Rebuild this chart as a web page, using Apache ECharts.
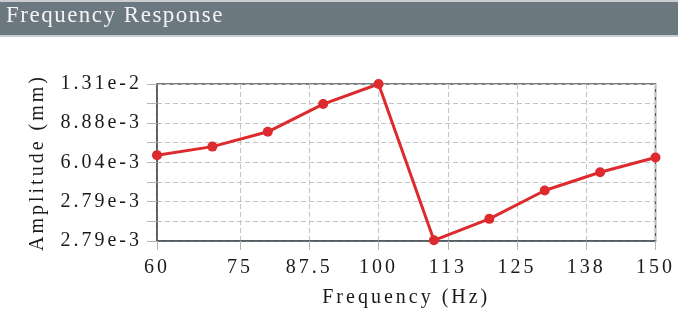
<!DOCTYPE html>
<html>
<head>
<meta charset="utf-8">
<title>Frequency Response</title>
<script src="https://cdn.jsdelivr.net/npm/echarts@6/dist/echarts.min.js"></script>
<style>
  html, body { margin: 0; padding: 0; background: #fff; }
  #chart { width: 678px; height: 314px; }
</style>
</head>
<body>
<div id="chart"></div>
<script>
const frequencies = [60, 70, 80, 90, 100, 110, 120, 130, 140, 150];
const amplitudes = [6.50e-3, 7.07e-3, 8.18e-3, 1.075e-2, 1.31e-2, 2.81e-3, 3.47e-3, 4.59e-3, 5.49e-3, 6.35e-3];

const xTickValues = [60, 75, 87.5, 100, 112.5, 125, 137.5, 150];
const xTickLabels = ['60', '75', '87.5', '100', '113', '125', '138', '150'];

const yTickValues = [0.00279, 0.003386, 0.00411, 0.004988, 0.006054, 0.007348, 0.008918, 0.010824, 0.0131];
const yLabelValues = [0.00279, 0.00411, 0.006054, 0.008918, 0.0131];
const yLabelTexts = ['2.79e-3', '2.79e-3', '6.04e-3', '8.88e-3', '1.31e-2'];

const serif = '"Liberation Serif", "Times New Roman", serif';
const frameColor = '#4c555b';

// the original figure uses widely tracked serif text; canvas supports letterSpacing natively
const spacingFor = (font) => (/\b2[2-9]px/.test(font) ? '1.5px' : '3px');
['fillText', 'strokeText', 'measureText'].forEach((fn) => {
  const orig = CanvasRenderingContext2D.prototype[fn];
  CanvasRenderingContext2D.prototype[fn] = function (...args) {
    if ('letterSpacing' in this) this.letterSpacing = spacingFor(this.font);
    return orig.apply(this, args);
  };
});

const pickLabel = (values, texts, v) => {
  let best = 0;
  values.forEach((tv, i) => {
    if (Math.abs(tv - v) < Math.abs(values[best] - v)) best = i;
  });
  return texts[best];
};

const chart = echarts.init(document.getElementById('chart'), null, { renderer: 'canvas' });

chart.setOption({
  backgroundColor: '#fff',
  animation: false,
  graphic: [
    { type: 'rect', left: 0, top: 0, shape: { width: 678, height: 37 }, style: { fill: '#c9cdd0' }, silent: true },
    { type: 'rect', left: 0, top: 2, shape: { width: 678, height: 33 }, style: { fill: '#6c7880' }, silent: true },
    {
      type: 'text',
      left: 6,
      top: 4,
      style: { text: 'Frequency Response', fill: '#f4f4f4', font: '23px ' + serif },
      silent: true,
    },
  ],
  grid: {
    left: 157,
    right: 21,
    top: 84,
    bottom: 71,
    show: true,
    borderColor: frameColor,
    borderWidth: 1.5,
  },
  xAxis: {
    type: 'value',
    min: 60,
    max: 150,
    name: 'Frequency (Hz)',
    nameLocation: 'middle',
    nameGap: 45,
    nameTextStyle: { fontFamily: serif, fontSize: 20, color: '#1a1a1a' },
    axisLine: { lineStyle: { color: frameColor, width: 1.5 } },
    axisTick: {
      customValues: xTickValues,
      length: 9,
      lineStyle: { color: '#b4b4b4' },
    },
    axisLabel: {
      customValues: xTickValues,
      margin: 15,
      fontFamily: serif,
      fontSize: 20,
      color: '#1a1a1a',
      formatter: (v) => pickLabel(xTickValues, xTickLabels, v),
    },
    splitLine: {
      show: true,
      lineStyle: { color: '#c4c4c4', type: [5, 3] },
    },
  },
  yAxis: {
    type: 'log',
    logBase: 10,
    min: 0.00279,
    max: 0.0131,
    name: 'Amplitude (mm)',
    nameLocation: 'middle',
    nameGap: 108,
    nameTextStyle: { fontFamily: serif, fontSize: 20, color: '#1a1a1a' },
    axisLine: { show: true, lineStyle: { color: frameColor, width: 1.5 } },
    axisTick: {
      show: true,
      customValues: yTickValues,
      length: 10,
      lineStyle: { color: '#b4b4b4' },
    },
    axisLabel: {
      customValues: yLabelValues,
      margin: 15,
      fontFamily: serif,
      fontSize: 20,
      color: '#1a1a1a',
      formatter: (v) => pickLabel(yLabelValues, yLabelTexts, v),
    },
    splitLine: {
      show: true,
      lineStyle: { color: '#c4c4c4', type: [5, 3] },
    },
  },
  series: [
    {
      name: 'Amplitude',
      type: 'line',
      data: frequencies.map((f, i) => [f, amplitudes[i]]),
      symbol: 'circle',
      symbolSize: 10,
      lineStyle: { color: '#dc2a2e', width: 3 },
      itemStyle: { color: '#dc2a2e' },
    },
  ],
});
</script>
</body>
</html>
